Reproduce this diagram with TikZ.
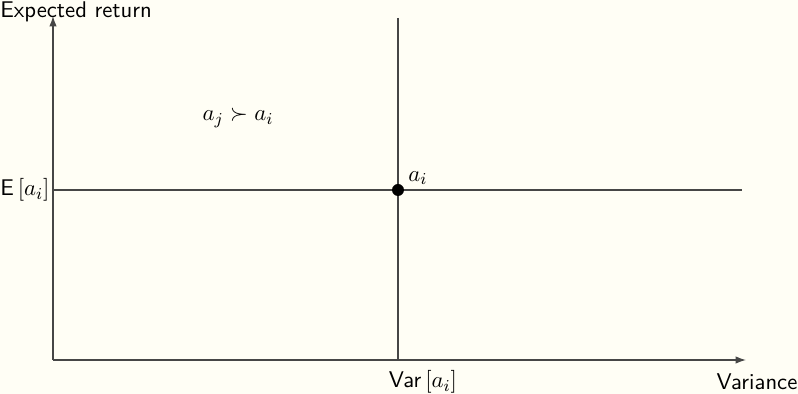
\documentclass[tikz,border=0pt]{standalone}
\usepackage{amsmath,amssymb}
\usetikzlibrary{arrows.meta}
\definecolor{bgcream}{RGB}{255,254,245}
\definecolor{linegray}{RGB}{70,70,70}
\begin{document}
\begin{tikzpicture}[x=0.48pt,y=-0.48pt,
  axis/.style={draw=linegray,line width=0.6pt,-{Latex[length=5pt,width=3.6pt]}},
  guide/.style={draw=linegray,line width=0.6pt},
  lbl/.style={inner sep=0pt,font=\sffamily\fontsize{10.9}{13}\selectfont}]
\fill[bgcream] (0,0) rectangle (798,394);
\useasboundingbox (0,0) rectangle (798,394);
\coordinate (O) at (53,360);
\coordinate (ytop) at (53,16);
\coordinate (xend) at (746,360);
\coordinate (vtop) at (398,18);
\coordinate (vbot) at (398,360);
\coordinate (hl) at (53,190);
\coordinate (hr) at (742,190);
\draw[axis] (O) -- (ytop);
\draw[axis] (O) -- (xend);
\draw[guide] (vtop) -- (vbot);
\draw[guide] (hl) -- (hr);
\node[circle,fill=black,inner sep=0pt,minimum size=12pt*0.48] (ai) at (398,190) {};
\node[lbl,anchor=south west] (ailbl) at (408,185) {$a_i$};
\node[lbl,anchor=east] (E) at (50,190) {E$\,[a_i]$};
\node[lbl] (Var) at (423,382) {Var$\,[a_i]$};
\node[lbl] (Variance) at (757,382) {Variance};
\node[lbl,anchor=west] (Er) at (0,12) {Expected return};
\node[lbl] (pref) at (238,118) {$a_j \succ a_i$};
\end{tikzpicture}
\end{document}
